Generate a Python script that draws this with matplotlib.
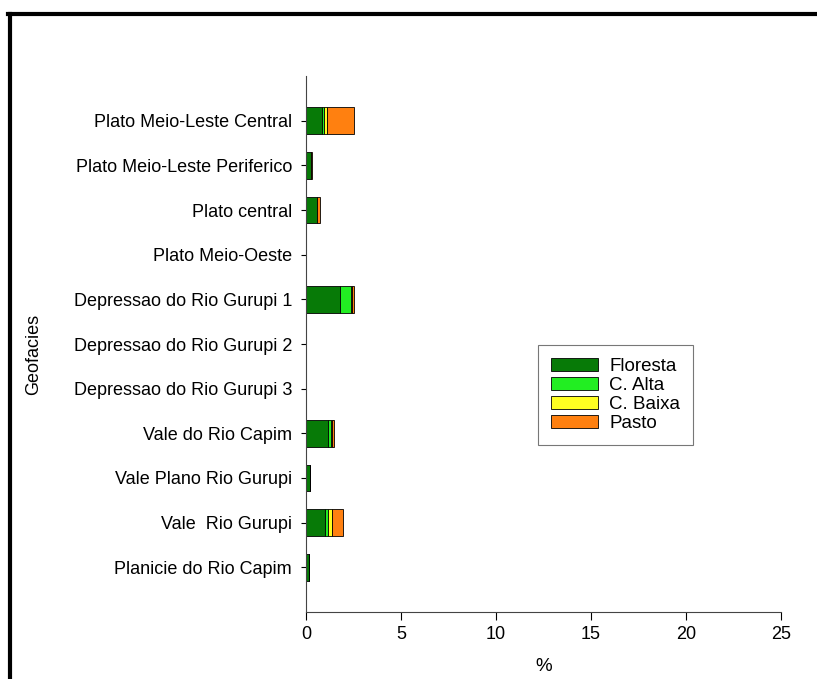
import numpy as np
import matplotlib
matplotlib.use("Agg")
import matplotlib.pyplot as plt
from matplotlib.lines import Line2D

plt.rcParams['font.family'] = ['Liberation Sans', 'DejaVu Sans']

geofacies = ["Plato Meio-Leste Central", "Plato Meio-Leste Periferico", "Plato central",
             "Plato Meio-Oeste", "Depressao do Rio Gurupi 1", "Depressao do Rio Gurupi 2",
             "Depressao do Rio Gurupi 3", "Vale do Rio Capim", "Vale Plano Rio Gurupi",
             "Vale  Rio Gurupi", "Planicie do Rio Capim"]
floresta = [0.83, 0.25, 0.60, 0, 1.78, 0, 0, 1.14, 0.20, 1.00, 0.15]
c_alta   = [0.12, 0.00, 0.00, 0, 0.58, 0, 0, 0.20, 0.00, 0.16, 0.00]
c_baixa  = [0.17, 0.00, 0.00, 0, 0.05, 0, 0, 0.05, 0.00, 0.19, 0.00]
pasto    = [1.42, 0.07, 0.14, 0, 0.10, 0, 0, 0.07, 0.03, 0.61, 0.03]

series = [("Floresta", floresta, "#077A07"),
          ("C. Alta", c_alta, "#22EE22"),
          ("C. Baixa", c_baixa, "#FFFF22"),
          ("Pasto", pasto, "#FF8010")]

fig = plt.figure(figsize=(8.17, 6.79), dpi=100)
ax = fig.add_axes([0.3745, 0.0987, 0.5815, 0.7893])

y = np.arange(len(geofacies))[::-1]
left = np.zeros(len(geofacies))
for name, vals, col in series:
    vals = np.array(vals)
    ax.barh(y, vals, left=left, height=0.6, color=col, edgecolor="black",
            linewidth=0.6, label=name)
    left += vals

ax.set_ylim(-1, 11)
ax.set_xlim(0, 25)
ax.set_xticks([0, 5, 10, 15, 20, 25])
ax.set_yticks(y)
ax.set_yticklabels(geofacies, fontsize=13)
ax.tick_params(axis='x', labelsize=13, length=5.8, pad=4)
ax.tick_params(axis='y', length=3.6, pad=6.5)
ax.spines['top'].set_visible(False)
ax.spines['right'].set_visible(False)
ax.spines['left'].set_color('#444444')
ax.spines['bottom'].set_color('#444444')
ax.set_xlabel("%", fontsize=13.5, labelpad=11)
fig.text(0.041, 0.478, "Geofacies", rotation=90, fontsize=13, ha='center', va='center')

leg = ax.legend(loc='upper left', bbox_to_anchor=(0.488, 0.498), fontsize=13.5,
                handlelength=2.5, handleheight=0.65, handletextpad=0.6,
                labelspacing=0.1, fancybox=False, edgecolor='#555555',
                borderpad=0.7, borderaxespad=0)
leg.get_frame().set_linewidth(0.8)

# outer frame (top and left)
fig.add_artist(Line2D([0.01, 1.0], [0.9794, 0.9794], color='black', lw=3,
                      transform=fig.transFigure))
fig.add_artist(Line2D([0.0122, 0.0122], [0.0, 0.9794], color='black', lw=3,
                      transform=fig.transFigure))

fig.savefig("out.png", dpi=100)
